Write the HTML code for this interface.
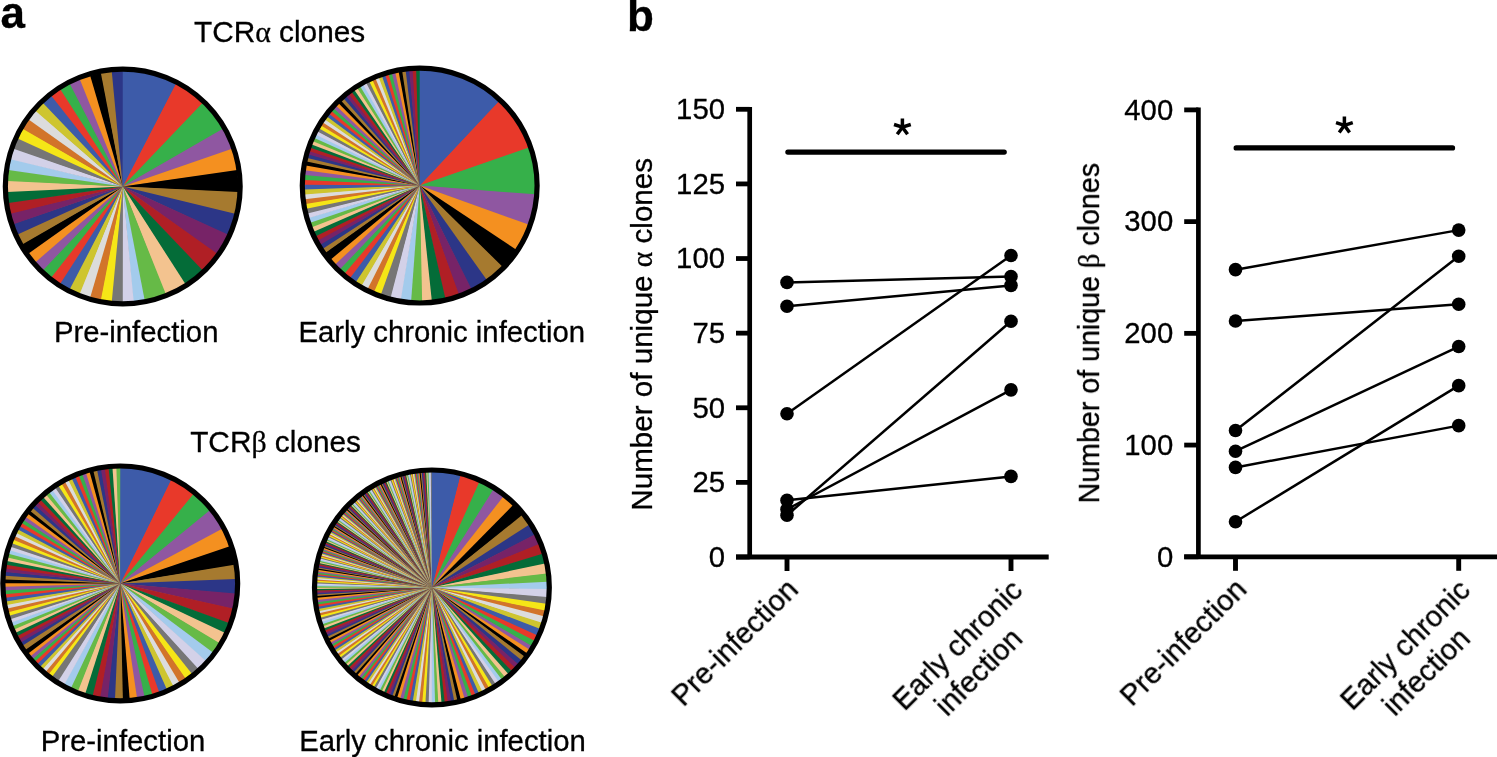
<!DOCTYPE html>
<html><head><meta charset="utf-8"><style>
html,body{margin:0;padding:0;background:#fff;}
svg{display:block;}
</style></head><body>
<svg width="1497" height="757" viewBox="0 0 1497 757">
<rect width="1497" height="757" fill="#fff"/>
<circle cx="122.75" cy="186.55" r="115.1" fill="#877460"/>
<path d="M122.75 186.55L122.75 70.95A115.6 115.6 0 0 1 176.35 84.13Z" fill="#3d5ba9"/>
<path d="M122.75 186.55L175.72 83.80A115.6 115.6 0 0 1 203.03 103.38Z" fill="#e8392a"/>
<path d="M122.75 186.55L202.52 102.89A115.6 115.6 0 0 1 223.21 129.36Z" fill="#36b04a"/>
<path d="M122.75 186.55L222.86 128.75A115.6 115.6 0 0 1 232.22 149.41Z" fill="#8f57a1"/>
<path d="M122.75 186.55L231.99 148.74A115.6 115.6 0 0 1 237.27 170.80Z" fill="#f49020"/>
<path d="M122.75 186.55L237.17 170.10A115.6 115.6 0 0 1 238.18 192.76Z" fill="#000000"/>
<path d="M122.75 186.55L238.22 192.05A115.6 115.6 0 0 1 234.92 214.49Z" fill="#a67a2f"/>
<path d="M122.75 186.55L235.09 213.80A115.6 115.6 0 0 1 227.61 235.21Z" fill="#2c3687"/>
<path d="M122.75 186.55L227.90 234.57A115.6 115.6 0 0 1 216.50 254.18Z" fill="#772367"/>
<path d="M122.75 186.55L216.91 253.60A115.6 115.6 0 0 1 202.01 270.70Z" fill="#b01f25"/>
<path d="M122.75 186.55L202.52 270.21A115.6 115.6 0 0 1 184.65 284.18Z" fill="#046c38"/>
<path d="M122.75 186.55L185.25 283.80A115.6 115.6 0 0 1 165.06 294.13Z" fill="#f3c38f"/>
<path d="M122.75 186.55L165.71 293.87A115.6 115.6 0 0 1 143.93 300.19Z" fill="#66ba47"/>
<path d="M122.75 186.55L144.63 300.06A115.6 115.6 0 0 1 133.04 301.69Z" fill="#a3cbec"/>
<path d="M122.75 186.55L133.74 301.63A115.6 115.6 0 0 1 122.04 302.15Z" fill="#d3d1e8"/>
<path d="M122.75 186.55L122.75 302.15A115.6 115.6 0 0 1 111.06 301.56Z" fill="#767676"/>
<path d="M122.75 186.55L111.76 301.63A115.6 115.6 0 0 1 100.18 299.93Z" fill="#f5e617"/>
<path d="M122.75 186.55L100.87 300.06A115.6 115.6 0 0 1 89.50 297.27Z" fill="#d2742a"/>
<path d="M122.75 186.55L90.18 297.47A115.6 115.6 0 0 1 79.13 293.60Z" fill="#dcdcdc"/>
<path d="M122.75 186.55L79.79 293.87A115.6 115.6 0 0 1 69.15 288.97Z" fill="#cec52f"/>
<path d="M122.75 186.55L69.78 289.30A115.6 115.6 0 0 1 59.66 283.42Z" fill="#3d5ba9"/>
<path d="M122.75 186.55L60.25 283.80A115.6 115.6 0 0 1 50.74 276.98Z" fill="#e8392a"/>
<path d="M122.75 186.55L51.29 277.42A115.6 115.6 0 0 1 42.47 269.72Z" fill="#36b04a"/>
<path d="M122.75 186.55L42.98 270.21A115.6 115.6 0 0 1 34.92 261.72Z" fill="#8f57a1"/>
<path d="M122.75 186.55L35.39 262.25A115.6 115.6 0 0 1 28.18 253.03Z" fill="#f49020"/>
<path d="M122.75 186.55L28.59 253.60A115.6 115.6 0 0 1 22.29 243.74Z" fill="#000000"/>
<path d="M122.75 186.55L22.64 244.35A115.6 115.6 0 0 1 17.31 233.93Z" fill="#a67a2f"/>
<path d="M122.75 186.55L17.60 234.57A115.6 115.6 0 0 1 13.28 223.69Z" fill="#2c3687"/>
<path d="M122.75 186.55L13.51 224.36A115.6 115.6 0 0 1 10.24 213.12Z" fill="#772367"/>
<path d="M122.75 186.55L10.41 213.80A115.6 115.6 0 0 1 8.23 202.30Z" fill="#b01f25"/>
<path d="M122.75 186.55L8.33 203.00A115.6 115.6 0 0 1 7.25 191.35Z" fill="#046c38"/>
<path d="M122.75 186.55L7.28 192.05A115.6 115.6 0 0 1 7.32 180.34Z" fill="#f3c38f"/>
<path d="M122.75 186.55L7.28 181.05A115.6 115.6 0 0 1 8.43 169.40Z" fill="#66ba47"/>
<path d="M122.75 186.55L8.33 170.10A115.6 115.6 0 0 1 10.58 158.61Z" fill="#a3cbec"/>
<path d="M122.75 186.55L10.41 159.30A115.6 115.6 0 0 1 13.74 148.07Z" fill="#d3d1e8"/>
<path d="M122.75 186.55L13.51 148.74A115.6 115.6 0 0 1 17.89 137.89Z" fill="#767676"/>
<path d="M122.75 186.55L17.60 138.53A115.6 115.6 0 0 1 22.99 128.14Z" fill="#f5e617"/>
<path d="M122.75 186.55L22.64 128.75A115.6 115.6 0 0 1 29.00 118.92Z" fill="#d2742a"/>
<path d="M122.75 186.55L28.59 119.50A115.6 115.6 0 0 1 35.85 110.32Z" fill="#dcdcdc"/>
<path d="M122.75 186.55L35.39 110.85A115.6 115.6 0 0 1 43.49 102.40Z" fill="#cec52f"/>
<path d="M122.75 186.55L42.98 102.89A115.6 115.6 0 0 1 51.85 95.25Z" fill="#3d5ba9"/>
<path d="M122.75 186.55L51.29 95.68A115.6 115.6 0 0 1 60.85 88.92Z" fill="#e8392a"/>
<path d="M122.75 186.55L60.25 89.30A115.6 115.6 0 0 1 70.41 83.48Z" fill="#36b04a"/>
<path d="M122.75 186.55L69.78 83.80A115.6 115.6 0 0 1 80.44 78.97Z" fill="#8f57a1"/>
<path d="M122.75 186.55L79.79 79.23A115.6 115.6 0 0 1 90.86 75.44Z" fill="#f49020"/>
<path d="M122.75 186.55L90.18 75.63A115.6 115.6 0 0 1 101.57 72.91Z" fill="#000000"/>
<path d="M122.75 186.55L100.87 73.04A115.6 115.6 0 0 1 112.46 71.41Z" fill="#a67a2f"/>
<path d="M122.75 186.55L111.76 71.47A115.6 115.6 0 0 1 123.46 70.95Z" fill="#2c3687"/>
<path d="M122.75 186.55L122.75 70.95A115.6 115.6 0 0 1 175.72 83.80Z" fill="#3d5ba9"/>
<circle cx="122.75" cy="186.55" r="117.4" fill="none" stroke="#000" stroke-width="5.2"/>
<circle cx="419.7" cy="185.6" r="115.1" fill="#867162"/>
<path d="M419.70 185.60L419.70 70.00A115.6 115.6 0 0 1 499.20 101.68Z" fill="#3d5ba9"/>
<path d="M419.70 185.60L498.69 101.19A115.6 115.6 0 0 1 529.03 148.06Z" fill="#e8392a"/>
<path d="M419.70 185.60L528.80 147.39A115.6 115.6 0 0 1 534.92 194.97Z" fill="#36b04a"/>
<path d="M419.70 185.60L534.97 194.27A115.6 115.6 0 0 1 528.29 225.23Z" fill="#8f57a1"/>
<path d="M419.70 185.60L528.53 224.57A115.6 115.6 0 0 1 515.59 250.16Z" fill="#f49020"/>
<path d="M419.70 185.60L515.99 249.57A115.6 115.6 0 0 1 501.80 266.98Z" fill="#000000"/>
<path d="M419.70 185.60L502.29 266.48A115.6 115.6 0 0 1 486.09 280.24Z" fill="#a67a2f"/>
<path d="M419.70 185.60L486.66 279.83A115.6 115.6 0 0 1 470.83 289.28Z" fill="#2c3687"/>
<path d="M419.70 185.60L471.46 288.96A115.6 115.6 0 0 1 458.19 294.60Z" fill="#772367"/>
<path d="M419.70 185.60L458.86 294.37A115.6 115.6 0 0 1 444.62 298.48Z" fill="#b01f25"/>
<path d="M419.70 185.60L445.31 298.33A115.6 115.6 0 0 1 431.08 300.64Z" fill="#046c38"/>
<path d="M419.70 185.60L431.78 300.57A115.6 115.6 0 0 1 421.41 301.19Z" fill="#f3c38f"/>
<path d="M419.70 185.60L422.12 301.17A115.6 115.6 0 0 1 410.45 300.83Z" fill="#66ba47"/>
<path d="M419.70 185.60L411.15 300.88A115.6 115.6 0 0 1 400.12 299.53Z" fill="#a3cbec"/>
<path d="M419.70 185.60L400.82 299.65A115.6 115.6 0 0 1 389.98 297.31Z" fill="#d3d1e8"/>
<path d="M419.70 185.60L390.66 297.49A115.6 115.6 0 0 1 380.26 294.26Z" fill="#767676"/>
<path d="M419.70 185.60L380.92 294.50A115.6 115.6 0 0 1 373.51 291.57Z" fill="#f5e617"/>
<path d="M419.70 185.60L374.16 291.85A115.6 115.6 0 0 1 367.13 288.55Z" fill="#d2742a"/>
<path d="M419.70 185.60L367.76 288.87A115.6 115.6 0 0 1 361.12 285.26Z" fill="#dcdcdc"/>
<path d="M419.70 185.60L361.73 285.61A115.6 115.6 0 0 1 355.31 281.61Z" fill="#cec52f"/>
<path d="M419.70 185.60L355.90 282.00A115.6 115.6 0 0 1 349.57 277.50Z" fill="#3d5ba9"/>
<path d="M419.70 185.60L350.13 277.92A115.6 115.6 0 0 1 344.09 273.04Z" fill="#e8392a"/>
<path d="M419.70 185.60L344.62 273.50A115.6 115.6 0 0 1 339.47 268.83Z" fill="#36b04a"/>
<path d="M419.70 185.60L339.98 269.31A115.6 115.6 0 0 1 334.68 263.92Z" fill="#8f57a1"/>
<path d="M419.70 185.60L335.16 264.44A115.6 115.6 0 0 1 330.31 258.90Z" fill="#f49020"/>
<path d="M419.70 185.60L330.76 259.44A115.6 115.6 0 0 1 325.18 252.15Z" fill="#000000"/>
<path d="M419.70 185.60L325.59 252.73A115.6 115.6 0 0 1 322.48 248.15Z" fill="#a67a2f"/>
<path d="M419.70 185.60L322.87 248.74A115.6 115.6 0 0 1 319.95 244.03Z" fill="#2c3687"/>
<path d="M419.70 185.60L320.31 244.64A115.6 115.6 0 0 1 317.60 239.81Z" fill="#772367"/>
<path d="M419.70 185.60L317.93 240.43A115.6 115.6 0 0 1 315.42 235.50Z" fill="#b01f25"/>
<path d="M419.70 185.60L315.73 236.13A115.6 115.6 0 0 1 313.43 231.09Z" fill="#046c38"/>
<path d="M419.70 185.60L313.71 231.74A115.6 115.6 0 0 1 311.62 226.61Z" fill="#f3c38f"/>
<path d="M419.70 185.60L311.87 227.27A115.6 115.6 0 0 1 310.00 222.06Z" fill="#66ba47"/>
<path d="M419.70 185.60L310.23 222.73A115.6 115.6 0 0 1 308.57 217.45Z" fill="#a3cbec"/>
<path d="M419.70 185.60L308.77 218.12A115.6 115.6 0 0 1 307.34 212.77Z" fill="#d3d1e8"/>
<path d="M419.70 185.60L307.51 213.46A115.6 115.6 0 0 1 306.30 208.06Z" fill="#767676"/>
<path d="M419.70 185.60L306.44 208.75A115.6 115.6 0 0 1 305.46 203.30Z" fill="#f5e617"/>
<path d="M419.70 185.60L305.57 204.00A115.6 115.6 0 0 1 304.82 198.51Z" fill="#d2742a"/>
<path d="M419.70 185.60L304.90 199.21A115.6 115.6 0 0 1 304.38 193.70Z" fill="#dcdcdc"/>
<path d="M419.70 185.60L304.44 194.40A115.6 115.6 0 0 1 304.15 188.87Z" fill="#cec52f"/>
<path d="M419.70 185.60L304.17 189.58A115.6 115.6 0 0 1 304.11 184.04Z" fill="#3d5ba9"/>
<path d="M419.70 185.60L304.10 184.75A115.6 115.6 0 0 1 304.28 179.21Z" fill="#e8392a"/>
<path d="M419.70 185.60L304.24 179.92A115.6 115.6 0 0 1 304.64 174.39Z" fill="#36b04a"/>
<path d="M419.70 185.60L304.58 175.10A115.6 115.6 0 0 1 305.21 169.60Z" fill="#8f57a1"/>
<path d="M419.70 185.60L305.12 170.30A115.6 115.6 0 0 1 305.98 164.83Z" fill="#f49020"/>
<path d="M419.70 185.60L305.86 165.52A115.6 115.6 0 0 1 306.81 160.72Z" fill="#000000"/>
<path d="M419.70 185.60L306.66 161.41A115.6 115.6 0 0 1 307.62 157.28Z" fill="#a67a2f"/>
<path d="M419.70 185.60L307.45 157.96A115.6 115.6 0 0 1 308.54 153.86Z" fill="#2c3687"/>
<path d="M419.70 185.60L308.35 154.54A115.6 115.6 0 0 1 309.57 150.47Z" fill="#772367"/>
<path d="M419.70 185.60L309.36 151.14A115.6 115.6 0 0 1 310.70 147.11Z" fill="#b01f25"/>
<path d="M419.70 185.60L310.46 147.78A115.6 115.6 0 0 1 311.93 143.79Z" fill="#046c38"/>
<path d="M419.70 185.60L311.67 144.45A115.6 115.6 0 0 1 313.26 140.51Z" fill="#f3c38f"/>
<path d="M419.70 185.60L312.98 141.16A115.6 115.6 0 0 1 314.69 137.27Z" fill="#66ba47"/>
<path d="M419.70 185.60L314.39 137.91A115.6 115.6 0 0 1 316.22 134.08Z" fill="#a3cbec"/>
<path d="M419.70 185.60L315.90 134.71A115.6 115.6 0 0 1 317.84 130.93Z" fill="#d3d1e8"/>
<path d="M419.70 185.60L317.51 131.56A115.6 115.6 0 0 1 319.56 127.84Z" fill="#767676"/>
<path d="M419.70 185.60L319.21 128.45A115.6 115.6 0 0 1 321.38 124.80Z" fill="#f5e617"/>
<path d="M419.70 185.60L321.01 125.40A115.6 115.6 0 0 1 323.29 121.82Z" fill="#d2742a"/>
<path d="M419.70 185.60L322.90 122.41A115.6 115.6 0 0 1 325.29 118.89Z" fill="#dcdcdc"/>
<path d="M419.70 185.60L324.88 119.47A115.6 115.6 0 0 1 327.37 116.03Z" fill="#cec52f"/>
<path d="M419.70 185.60L326.95 116.60A115.6 115.6 0 0 1 329.55 113.24Z" fill="#3d5ba9"/>
<path d="M419.70 185.60L329.11 113.79A115.6 115.6 0 0 1 331.81 110.51Z" fill="#e8392a"/>
<path d="M419.70 185.60L331.35 111.05A115.6 115.6 0 0 1 334.15 107.86Z" fill="#36b04a"/>
<path d="M419.70 185.60L333.67 108.38A115.6 115.6 0 0 1 336.57 105.27Z" fill="#8f57a1"/>
<path d="M419.70 185.60L336.08 105.78A115.6 115.6 0 0 1 339.07 102.76Z" fill="#f49020"/>
<path d="M419.70 185.60L338.56 103.26A115.6 115.6 0 0 1 341.60 100.37Z" fill="#000000"/>
<path d="M419.70 185.60L341.08 100.85A115.6 115.6 0 0 1 344.17 98.09Z" fill="#a67a2f"/>
<path d="M419.70 185.60L343.64 98.55A115.6 115.6 0 0 1 346.80 95.88Z" fill="#2c3687"/>
<path d="M419.70 185.60L346.26 96.33A115.6 115.6 0 0 1 349.50 93.75Z" fill="#772367"/>
<path d="M419.70 185.60L348.94 94.18A115.6 115.6 0 0 1 352.26 91.71Z" fill="#b01f25"/>
<path d="M419.70 185.60L351.69 92.12A115.6 115.6 0 0 1 355.08 89.75Z" fill="#046c38"/>
<path d="M419.70 185.60L354.50 90.14A115.6 115.6 0 0 1 357.96 87.87Z" fill="#f3c38f"/>
<path d="M419.70 185.60L357.36 88.25A115.6 115.6 0 0 1 360.89 86.08Z" fill="#66ba47"/>
<path d="M419.70 185.60L360.28 86.44A115.6 115.6 0 0 1 363.87 84.37Z" fill="#a3cbec"/>
<path d="M419.70 185.60L363.26 84.72A115.6 115.6 0 0 1 366.91 82.76Z" fill="#d3d1e8"/>
<path d="M419.70 185.60L366.28 83.08A115.6 115.6 0 0 1 369.98 81.24Z" fill="#767676"/>
<path d="M419.70 185.60L369.35 81.54A115.6 115.6 0 0 1 373.11 79.81Z" fill="#f5e617"/>
<path d="M419.70 185.60L372.46 80.09A115.6 115.6 0 0 1 376.27 78.47Z" fill="#d2742a"/>
<path d="M419.70 185.60L375.62 78.73A115.6 115.6 0 0 1 379.47 77.22Z" fill="#dcdcdc"/>
<path d="M419.70 185.60L378.81 77.47A115.6 115.6 0 0 1 382.71 76.08Z" fill="#cec52f"/>
<path d="M419.70 185.60L382.04 76.31A115.6 115.6 0 0 1 385.98 75.03Z" fill="#3d5ba9"/>
<path d="M419.70 185.60L385.31 75.23A115.6 115.6 0 0 1 389.28 74.07Z" fill="#e8392a"/>
<path d="M419.70 185.60L388.60 74.26A115.6 115.6 0 0 1 392.61 73.22Z" fill="#36b04a"/>
<path d="M419.70 185.60L391.92 73.39A115.6 115.6 0 0 1 395.96 72.46Z" fill="#8f57a1"/>
<path d="M419.70 185.60L395.27 72.61A115.6 115.6 0 0 1 399.41 71.79Z" fill="#f49020"/>
<path d="M419.70 185.60L398.72 71.92A115.6 115.6 0 0 1 402.88 71.23Z" fill="#000000"/>
<path d="M419.70 185.60L402.19 71.33A115.6 115.6 0 0 1 406.37 70.77Z" fill="#a67a2f"/>
<path d="M419.70 185.60L405.67 70.85A115.6 115.6 0 0 1 409.87 70.42Z" fill="#2c3687"/>
<path d="M419.70 185.60L409.17 70.48A115.6 115.6 0 0 1 413.38 70.17Z" fill="#772367"/>
<path d="M419.70 185.60L412.67 70.21A115.6 115.6 0 0 1 416.89 70.03Z" fill="#b01f25"/>
<path d="M419.70 185.60L416.18 70.05A115.6 115.6 0 0 1 420.41 70.00Z" fill="#046c38"/>
<path d="M419.70 185.60L419.70 70.00A115.6 115.6 0 0 1 498.69 101.19Z" fill="#3d5ba9"/>
<circle cx="419.7" cy="185.6" r="117.4" fill="none" stroke="#000" stroke-width="5.2"/>
<circle cx="120.25" cy="583.4" r="115.1" fill="#8a7664"/>
<path d="M120.25 583.40L120.25 467.80A115.6 115.6 0 0 1 171.74 479.90Z" fill="#3d5ba9"/>
<path d="M120.25 583.40L171.11 479.59A115.6 115.6 0 0 1 194.01 494.39Z" fill="#e8392a"/>
<path d="M120.25 583.40L193.47 493.94A115.6 115.6 0 0 1 210.28 510.89Z" fill="#36b04a"/>
<path d="M120.25 583.40L209.83 510.34A115.6 115.6 0 0 1 222.46 529.40Z" fill="#8f57a1"/>
<path d="M120.25 583.40L222.13 528.77A115.6 115.6 0 0 1 229.97 547.01Z" fill="#f49020"/>
<path d="M120.25 583.40L229.75 546.34A115.6 115.6 0 0 1 234.44 565.42Z" fill="#000000"/>
<path d="M120.25 583.40L234.33 564.72A115.6 115.6 0 0 1 235.79 579.67Z" fill="#a67a2f"/>
<path d="M120.25 583.40L235.76 578.96A115.6 115.6 0 0 1 235.34 594.28Z" fill="#2c3687"/>
<path d="M120.25 583.40L235.40 593.58A115.6 115.6 0 0 1 232.95 609.11Z" fill="#772367"/>
<path d="M120.25 583.40L233.11 608.42A115.6 115.6 0 0 1 228.63 623.60Z" fill="#b01f25"/>
<path d="M120.25 583.40L228.88 622.94A115.6 115.6 0 0 1 224.46 633.44Z" fill="#046c38"/>
<path d="M120.25 583.40L224.76 632.80A115.6 115.6 0 0 1 218.97 643.54Z" fill="#f3c38f"/>
<path d="M120.25 583.40L219.34 642.94A115.6 115.6 0 0 1 212.51 653.05Z" fill="#66ba47"/>
<path d="M120.25 583.40L212.94 652.49A115.6 115.6 0 0 1 205.41 661.57Z" fill="#a3cbec"/>
<path d="M120.25 583.40L205.89 661.05A115.6 115.6 0 0 1 197.68 669.24Z" fill="#d3d1e8"/>
<path d="M120.25 583.40L198.20 668.77A115.6 115.6 0 0 1 191.50 674.43Z" fill="#767676"/>
<path d="M120.25 583.40L192.05 673.99A115.6 115.6 0 0 1 185.14 679.07Z" fill="#f5e617"/>
<path d="M120.25 583.40L185.73 678.67A115.6 115.6 0 0 1 178.83 683.06Z" fill="#d2742a"/>
<path d="M120.25 583.40L179.44 682.70A115.6 115.6 0 0 1 172.64 686.45Z" fill="#dcdcdc"/>
<path d="M120.25 583.40L173.27 686.12A115.6 115.6 0 0 1 166.07 689.53Z" fill="#cec52f"/>
<path d="M120.25 583.40L166.72 689.25A115.6 115.6 0 0 1 158.55 692.47Z" fill="#3d5ba9"/>
<path d="M120.25 583.40L159.22 692.23A115.6 115.6 0 0 1 151.63 694.66Z" fill="#e8392a"/>
<path d="M120.25 583.40L152.31 694.47A115.6 115.6 0 0 1 143.79 696.58Z" fill="#36b04a"/>
<path d="M120.25 583.40L144.48 696.43A115.6 115.6 0 0 1 136.24 697.89Z" fill="#8f57a1"/>
<path d="M120.25 583.40L136.94 697.79A115.6 115.6 0 0 1 128.92 698.67Z" fill="#f49020"/>
<path d="M120.25 583.40L129.62 698.62A115.6 115.6 0 0 1 122.17 698.98Z" fill="#000000"/>
<path d="M120.25 583.40L122.87 698.97A115.6 115.6 0 0 1 114.30 698.85Z" fill="#a67a2f"/>
<path d="M120.25 583.40L115.01 698.88A115.6 115.6 0 0 1 107.06 698.25Z" fill="#2c3687"/>
<path d="M120.25 583.40L107.77 698.32A115.6 115.6 0 0 1 99.48 697.12Z" fill="#772367"/>
<path d="M120.25 583.40L100.18 697.24A115.6 115.6 0 0 1 91.99 695.49Z" fill="#b01f25"/>
<path d="M120.25 583.40L92.68 695.66A115.6 115.6 0 0 1 84.62 693.37Z" fill="#046c38"/>
<path d="M120.25 583.40L85.30 693.59A115.6 115.6 0 0 1 77.41 690.77Z" fill="#f3c38f"/>
<path d="M120.25 583.40L78.07 691.03A115.6 115.6 0 0 1 70.39 687.70Z" fill="#66ba47"/>
<path d="M120.25 583.40L71.03 688.00A115.6 115.6 0 0 1 63.77 684.26Z" fill="#a3cbec"/>
<path d="M120.25 583.40L64.38 684.60A115.6 115.6 0 0 1 57.71 680.62Z" fill="#d3d1e8"/>
<path d="M120.25 583.40L58.31 681.00A115.6 115.6 0 0 1 51.57 676.39Z" fill="#767676"/>
<path d="M120.25 583.40L52.14 676.80A115.6 115.6 0 0 1 48.21 673.81Z" fill="#f5e617"/>
<path d="M120.25 583.40L48.76 674.25A115.6 115.6 0 0 1 45.25 671.37Z" fill="#d2742a"/>
<path d="M120.25 583.40L45.79 671.82A115.6 115.6 0 0 1 42.23 668.70Z" fill="#dcdcdc"/>
<path d="M120.25 583.40L42.75 669.17A115.6 115.6 0 0 1 39.73 666.35Z" fill="#cec52f"/>
<path d="M120.25 583.40L40.24 666.84A115.6 115.6 0 0 1 36.88 663.48Z" fill="#3d5ba9"/>
<path d="M120.25 583.40L37.38 663.99A115.6 115.6 0 0 1 34.61 661.05Z" fill="#e8392a"/>
<path d="M120.25 583.40L35.09 661.57A115.6 115.6 0 0 1 32.28 658.40Z" fill="#36b04a"/>
<path d="M120.25 583.40L32.74 658.94A115.6 115.6 0 0 1 30.03 655.68Z" fill="#8f57a1"/>
<path d="M120.25 583.40L30.48 656.23A115.6 115.6 0 0 1 27.87 652.89Z" fill="#f49020"/>
<path d="M120.25 583.40L28.29 653.45A115.6 115.6 0 0 1 25.15 649.13Z" fill="#000000"/>
<path d="M120.25 583.40L25.56 649.71A115.6 115.6 0 0 1 22.38 644.92Z" fill="#a67a2f"/>
<path d="M120.25 583.40L22.75 645.51A115.6 115.6 0 0 1 20.48 641.79Z" fill="#2c3687"/>
<path d="M120.25 583.40L20.84 642.40A115.6 115.6 0 0 1 18.69 638.61Z" fill="#772367"/>
<path d="M120.25 583.40L19.03 639.23A115.6 115.6 0 0 1 16.99 635.37Z" fill="#b01f25"/>
<path d="M120.25 583.40L17.31 636.00A115.6 115.6 0 0 1 15.40 632.08Z" fill="#046c38"/>
<path d="M120.25 583.40L15.70 632.72A115.6 115.6 0 0 1 13.92 628.75Z" fill="#f3c38f"/>
<path d="M120.25 583.40L14.19 629.40A115.6 115.6 0 0 1 12.54 625.36Z" fill="#66ba47"/>
<path d="M120.25 583.40L12.79 626.02A115.6 115.6 0 0 1 11.26 621.94Z" fill="#a3cbec"/>
<path d="M120.25 583.40L11.50 622.60A115.6 115.6 0 0 1 10.10 618.48Z" fill="#d3d1e8"/>
<path d="M120.25 583.40L10.32 619.15A115.6 115.6 0 0 1 9.05 614.98Z" fill="#767676"/>
<path d="M120.25 583.40L9.24 615.66A115.6 115.6 0 0 1 8.10 611.45Z" fill="#f5e617"/>
<path d="M120.25 583.40L8.28 612.13A115.6 115.6 0 0 1 7.27 607.89Z" fill="#d2742a"/>
<path d="M120.25 583.40L7.43 608.58A115.6 115.6 0 0 1 6.56 604.31Z" fill="#dcdcdc"/>
<path d="M120.25 583.40L6.69 605.00A115.6 115.6 0 0 1 5.95 600.71Z" fill="#cec52f"/>
<path d="M120.25 583.40L6.06 601.40A115.6 115.6 0 0 1 5.46 597.08Z" fill="#3d5ba9"/>
<path d="M120.25 583.40L5.55 597.79A115.6 115.6 0 0 1 5.09 593.45Z" fill="#e8392a"/>
<path d="M120.25 583.40L5.15 594.15A115.6 115.6 0 0 1 4.83 589.81Z" fill="#36b04a"/>
<path d="M120.25 583.40L4.87 590.51A115.6 115.6 0 0 1 4.68 586.16Z" fill="#8f57a1"/>
<path d="M120.25 583.40L4.70 586.86A115.6 115.6 0 0 1 4.65 582.50Z" fill="#f49020"/>
<path d="M120.25 583.40L4.65 583.21A115.6 115.6 0 0 1 4.74 578.82Z" fill="#000000"/>
<path d="M120.25 583.40L4.72 579.52A115.6 115.6 0 0 1 4.95 575.10Z" fill="#a67a2f"/>
<path d="M120.25 583.40L4.90 575.80A115.6 115.6 0 0 1 5.28 571.39Z" fill="#2c3687"/>
<path d="M120.25 583.40L5.20 572.09A115.6 115.6 0 0 1 5.72 567.70Z" fill="#772367"/>
<path d="M120.25 583.40L5.63 568.40A115.6 115.6 0 0 1 6.29 564.02Z" fill="#b01f25"/>
<path d="M120.25 583.40L6.17 564.71A115.6 115.6 0 0 1 6.97 560.36Z" fill="#046c38"/>
<path d="M120.25 583.40L6.83 561.05A115.6 115.6 0 0 1 7.77 556.72Z" fill="#f3c38f"/>
<path d="M120.25 583.40L7.61 557.41A115.6 115.6 0 0 1 8.69 553.12Z" fill="#66ba47"/>
<path d="M120.25 583.40L8.50 553.80A115.6 115.6 0 0 1 9.72 549.54Z" fill="#a3cbec"/>
<path d="M120.25 583.40L9.52 550.21A115.6 115.6 0 0 1 10.87 546.00Z" fill="#d3d1e8"/>
<path d="M120.25 583.40L10.64 546.67A115.6 115.6 0 0 1 12.13 542.50Z" fill="#767676"/>
<path d="M120.25 583.40L11.88 543.16A115.6 115.6 0 0 1 13.50 539.04Z" fill="#f5e617"/>
<path d="M120.25 583.40L13.23 539.69A115.6 115.6 0 0 1 14.99 535.62Z" fill="#d2742a"/>
<path d="M120.25 583.40L14.70 536.27A115.6 115.6 0 0 1 16.58 532.26Z" fill="#dcdcdc"/>
<path d="M120.25 583.40L16.27 532.89A115.6 115.6 0 0 1 18.28 528.95Z" fill="#cec52f"/>
<path d="M120.25 583.40L17.95 529.57A115.6 115.6 0 0 1 20.08 525.69Z" fill="#3d5ba9"/>
<path d="M120.25 583.40L19.73 526.30A115.6 115.6 0 0 1 21.99 522.50Z" fill="#e8392a"/>
<path d="M120.25 583.40L21.62 523.10A115.6 115.6 0 0 1 24.01 519.36Z" fill="#36b04a"/>
<path d="M120.25 583.40L23.62 519.95A115.6 115.6 0 0 1 26.12 516.30Z" fill="#8f57a1"/>
<path d="M120.25 583.40L25.71 516.88A115.6 115.6 0 0 1 28.33 513.30Z" fill="#f49020"/>
<path d="M120.25 583.40L27.90 513.87A115.6 115.6 0 0 1 30.66 510.35Z" fill="#000000"/>
<path d="M120.25 583.40L30.21 510.90A115.6 115.6 0 0 1 33.11 507.44Z" fill="#a67a2f"/>
<path d="M120.25 583.40L32.65 507.98A115.6 115.6 0 0 1 35.65 504.62Z" fill="#2c3687"/>
<path d="M120.25 583.40L35.17 505.13A115.6 115.6 0 0 1 38.29 501.88Z" fill="#772367"/>
<path d="M120.25 583.40L37.79 502.38A115.6 115.6 0 0 1 41.02 499.22Z" fill="#b01f25"/>
<path d="M120.25 583.40L40.50 499.71A115.6 115.6 0 0 1 43.83 496.66Z" fill="#046c38"/>
<path d="M120.25 583.40L43.30 497.13A115.6 115.6 0 0 1 46.72 494.20Z" fill="#f3c38f"/>
<path d="M120.25 583.40L46.18 494.65A115.6 115.6 0 0 1 49.70 491.83Z" fill="#66ba47"/>
<path d="M120.25 583.40L49.14 492.26A115.6 115.6 0 0 1 52.75 489.56Z" fill="#a3cbec"/>
<path d="M120.25 583.40L52.18 489.97A115.6 115.6 0 0 1 55.87 487.39Z" fill="#d3d1e8"/>
<path d="M120.25 583.40L55.29 487.78A115.6 115.6 0 0 1 59.06 485.32Z" fill="#767676"/>
<path d="M120.25 583.40L58.47 485.70A115.6 115.6 0 0 1 62.32 483.36Z" fill="#f5e617"/>
<path d="M120.25 583.40L61.71 483.72A115.6 115.6 0 0 1 65.65 481.51Z" fill="#d2742a"/>
<path d="M120.25 583.40L65.02 481.84A115.6 115.6 0 0 1 69.03 479.77Z" fill="#dcdcdc"/>
<path d="M120.25 583.40L68.39 480.08A115.6 115.6 0 0 1 72.46 478.14Z" fill="#cec52f"/>
<path d="M120.25 583.40L71.82 478.43A115.6 115.6 0 0 1 75.95 476.62Z" fill="#3d5ba9"/>
<path d="M120.25 583.40L75.30 476.90A115.6 115.6 0 0 1 79.49 475.23Z" fill="#e8392a"/>
<path d="M120.25 583.40L78.83 475.48A115.6 115.6 0 0 1 83.07 473.94Z" fill="#36b04a"/>
<path d="M120.25 583.40L82.40 474.17A115.6 115.6 0 0 1 86.69 472.78Z" fill="#8f57a1"/>
<path d="M120.25 583.40L86.01 472.99A115.6 115.6 0 0 1 90.35 471.74Z" fill="#f49020"/>
<path d="M120.25 583.40L89.66 471.92A115.6 115.6 0 0 1 94.07 470.80Z" fill="#000000"/>
<path d="M120.25 583.40L93.38 470.97A115.6 115.6 0 0 1 97.86 469.99Z" fill="#a67a2f"/>
<path d="M120.25 583.40L97.16 470.13A115.6 115.6 0 0 1 101.67 469.30Z" fill="#2c3687"/>
<path d="M120.25 583.40L100.97 469.42A115.6 115.6 0 0 1 105.50 468.74Z" fill="#772367"/>
<path d="M120.25 583.40L104.80 468.84A115.6 115.6 0 0 1 109.35 468.31Z" fill="#b01f25"/>
<path d="M120.25 583.40L108.65 468.38A115.6 115.6 0 0 1 113.21 468.01Z" fill="#046c38"/>
<path d="M120.25 583.40L112.51 468.06A115.6 115.6 0 0 1 117.08 467.84Z" fill="#f3c38f"/>
<path d="M120.25 583.40L116.38 467.86A115.6 115.6 0 0 1 120.96 467.80Z" fill="#66ba47"/>
<path d="M120.25 583.40L120.25 467.80A115.6 115.6 0 0 1 171.11 479.59Z" fill="#3d5ba9"/>
<circle cx="120.25" cy="583.4" r="117.4" fill="none" stroke="#000" stroke-width="5.2"/>
<circle cx="431.9" cy="587.4" r="115.1" fill="#8f7b63"/>
<path d="M431.90 587.40L431.90 471.80A115.6 115.6 0 0 1 460.94 475.51Z" fill="#3d5ba9"/>
<path d="M431.90 587.40L460.26 475.33A115.6 115.6 0 0 1 479.93 482.25Z" fill="#e8392a"/>
<path d="M431.90 587.40L479.29 481.96A115.6 115.6 0 0 1 493.93 489.85Z" fill="#36b04a"/>
<path d="M431.90 587.40L493.33 489.47A115.6 115.6 0 0 1 503.94 496.99Z" fill="#8f57a1"/>
<path d="M431.90 587.40L503.39 496.55A115.6 115.6 0 0 1 513.57 505.59Z" fill="#f49020"/>
<path d="M431.90 587.40L513.07 505.09A115.6 115.6 0 0 1 522.56 515.67Z" fill="#000000"/>
<path d="M431.90 587.40L522.12 515.12A115.6 115.6 0 0 1 529.45 525.37Z" fill="#a67a2f"/>
<path d="M431.90 587.40L529.07 524.78A115.6 115.6 0 0 1 534.99 535.10Z" fill="#2c3687"/>
<path d="M431.90 587.40L534.67 534.47A115.6 115.6 0 0 1 539.34 544.75Z" fill="#772367"/>
<path d="M431.90 587.40L539.08 544.10A115.6 115.6 0 0 1 542.71 554.47Z" fill="#b01f25"/>
<path d="M431.90 587.40L542.51 553.79A115.6 115.6 0 0 1 545.16 564.25Z" fill="#046c38"/>
<path d="M431.90 587.40L545.02 563.56A115.6 115.6 0 0 1 546.73 574.11Z" fill="#f3c38f"/>
<path d="M431.90 587.40L546.65 573.41A115.6 115.6 0 0 1 547.39 582.46Z" fill="#66ba47"/>
<path d="M431.90 587.40L547.36 581.75A115.6 115.6 0 0 1 547.48 589.62Z" fill="#a3cbec"/>
<path d="M431.90 587.40L547.49 588.91A115.6 115.6 0 0 1 547.03 597.78Z" fill="#d3d1e8"/>
<path d="M431.90 587.40L547.09 597.07A115.6 115.6 0 0 1 546.25 604.39Z" fill="#767676"/>
<path d="M431.90 587.40L546.35 603.69A115.6 115.6 0 0 1 545.04 611.14Z" fill="#f5e617"/>
<path d="M431.90 587.40L545.18 610.45A115.6 115.6 0 0 1 543.64 617.03Z" fill="#d2742a"/>
<path d="M431.90 587.40L543.82 616.34A115.6 115.6 0 0 1 541.72 623.51Z" fill="#dcdcdc"/>
<path d="M431.90 587.40L541.94 622.83A115.6 115.6 0 0 1 539.57 629.49Z" fill="#cec52f"/>
<path d="M431.90 587.40L539.82 628.83A115.6 115.6 0 0 1 536.80 635.98Z" fill="#3d5ba9"/>
<path d="M431.90 587.40L537.09 635.34A115.6 115.6 0 0 1 534.16 641.31Z" fill="#e8392a"/>
<path d="M431.90 587.40L534.48 640.69A115.6 115.6 0 0 1 531.25 646.51Z" fill="#36b04a"/>
<path d="M431.90 587.40L531.61 645.90A115.6 115.6 0 0 1 529.01 650.11Z" fill="#8f57a1"/>
<path d="M431.90 587.40L529.40 649.51A115.6 115.6 0 0 1 526.59 653.71Z" fill="#f49020"/>
<path d="M431.90 587.40L527.00 653.13A115.6 115.6 0 0 1 524.10 657.13Z" fill="#000000"/>
<path d="M431.90 587.40L524.52 656.57A115.6 115.6 0 0 1 521.16 660.85Z" fill="#a67a2f"/>
<path d="M431.90 587.40L521.61 660.31A115.6 115.6 0 0 1 517.74 664.83Z" fill="#2c3687"/>
<path d="M431.90 587.40L518.21 664.30A115.6 115.6 0 0 1 514.56 668.21Z" fill="#772367"/>
<path d="M431.90 587.40L515.06 667.70A115.6 115.6 0 0 1 511.25 671.46Z" fill="#b01f25"/>
<path d="M431.90 587.40L511.77 670.98A115.6 115.6 0 0 1 507.82 674.58Z" fill="#046c38"/>
<path d="M431.90 587.40L508.35 674.11A115.6 115.6 0 0 1 504.26 677.55Z" fill="#f3c38f"/>
<path d="M431.90 587.40L504.81 677.11A115.6 115.6 0 0 1 501.23 679.90Z" fill="#66ba47"/>
<path d="M431.90 587.40L501.80 679.47A115.6 115.6 0 0 1 498.14 682.14Z" fill="#a3cbec"/>
<path d="M431.90 587.40L498.71 681.74A115.6 115.6 0 0 1 494.96 684.28Z" fill="#d3d1e8"/>
<path d="M431.90 587.40L495.55 683.90A115.6 115.6 0 0 1 491.72 686.32Z" fill="#767676"/>
<path d="M431.90 587.40L492.33 685.95A115.6 115.6 0 0 1 488.42 688.24Z" fill="#f5e617"/>
<path d="M431.90 587.40L489.03 687.90A115.6 115.6 0 0 1 485.05 690.06Z" fill="#d2742a"/>
<path d="M431.90 587.40L485.68 689.73A115.6 115.6 0 0 1 481.62 691.76Z" fill="#dcdcdc"/>
<path d="M431.90 587.40L482.26 691.45A115.6 115.6 0 0 1 478.14 693.35Z" fill="#cec52f"/>
<path d="M431.90 587.40L478.79 693.06A115.6 115.6 0 0 1 474.61 694.82Z" fill="#3d5ba9"/>
<path d="M431.90 587.40L475.27 694.56A115.6 115.6 0 0 1 471.03 696.17Z" fill="#e8392a"/>
<path d="M431.90 587.40L471.70 695.93A115.6 115.6 0 0 1 467.41 697.41Z" fill="#36b04a"/>
<path d="M431.90 587.40L468.08 697.19A115.6 115.6 0 0 1 463.75 698.52Z" fill="#8f57a1"/>
<path d="M431.90 587.40L464.43 698.33A115.6 115.6 0 0 1 460.06 699.52Z" fill="#f49020"/>
<path d="M431.90 587.40L460.74 699.34A115.6 115.6 0 0 1 456.63 700.32Z" fill="#000000"/>
<path d="M431.90 587.40L457.32 700.17A115.6 115.6 0 0 1 453.49 700.97Z" fill="#a67a2f"/>
<path d="M431.90 587.40L454.19 700.83A115.6 115.6 0 0 1 450.33 701.52Z" fill="#2c3687"/>
<path d="M431.90 587.40L451.03 701.41A115.6 115.6 0 0 1 447.16 701.99Z" fill="#772367"/>
<path d="M431.90 587.40L447.86 701.89A115.6 115.6 0 0 1 443.97 702.37Z" fill="#b01f25"/>
<path d="M431.90 587.40L444.68 702.29A115.6 115.6 0 0 1 440.78 702.66Z" fill="#046c38"/>
<path d="M431.90 587.40L441.48 702.60A115.6 115.6 0 0 1 437.58 702.86Z" fill="#f3c38f"/>
<path d="M431.90 587.40L438.28 702.82A115.6 115.6 0 0 1 434.37 702.97Z" fill="#66ba47"/>
<path d="M431.90 587.40L435.08 702.96A115.6 115.6 0 0 1 431.16 703.00Z" fill="#a3cbec"/>
<path d="M431.90 587.40L431.87 703.00A115.6 115.6 0 0 1 427.96 702.93Z" fill="#d3d1e8"/>
<path d="M431.90 587.40L428.66 702.95A115.6 115.6 0 0 1 424.75 702.78Z" fill="#767676"/>
<path d="M431.90 587.40L425.46 702.82A115.6 115.6 0 0 1 421.55 702.54Z" fill="#f5e617"/>
<path d="M431.90 587.40L422.26 702.60A115.6 115.6 0 0 1 418.36 702.20Z" fill="#d2742a"/>
<path d="M431.90 587.40L419.06 702.29A115.6 115.6 0 0 1 415.18 701.78Z" fill="#dcdcdc"/>
<path d="M431.90 587.40L415.88 701.88A115.6 115.6 0 0 1 412.02 701.28Z" fill="#cec52f"/>
<path d="M431.90 587.40L412.71 701.40A115.6 115.6 0 0 1 408.86 700.68Z" fill="#3d5ba9"/>
<path d="M431.90 587.40L409.56 700.82A115.6 115.6 0 0 1 405.73 700.00Z" fill="#e8392a"/>
<path d="M431.90 587.40L406.42 700.16A115.6 115.6 0 0 1 402.61 699.23Z" fill="#36b04a"/>
<path d="M431.90 587.40L403.30 699.41A115.6 115.6 0 0 1 399.52 698.37Z" fill="#8f57a1"/>
<path d="M431.90 587.40L400.20 698.57A115.6 115.6 0 0 1 396.46 697.43Z" fill="#f49020"/>
<path d="M431.90 587.40L397.13 697.65A115.6 115.6 0 0 1 393.85 696.56Z" fill="#000000"/>
<path d="M431.90 587.40L394.52 696.79A115.6 115.6 0 0 1 391.71 695.79Z" fill="#a67a2f"/>
<path d="M431.90 587.40L392.37 696.03A115.6 115.6 0 0 1 389.58 694.97Z" fill="#2c3687"/>
<path d="M431.90 587.40L390.24 695.23A115.6 115.6 0 0 1 387.47 694.12Z" fill="#772367"/>
<path d="M431.90 587.40L388.12 694.39A115.6 115.6 0 0 1 385.37 693.22Z" fill="#b01f25"/>
<path d="M431.90 587.40L386.02 693.50A115.6 115.6 0 0 1 383.29 692.28Z" fill="#046c38"/>
<path d="M431.90 587.40L383.93 692.58A115.6 115.6 0 0 1 381.23 691.31Z" fill="#f3c38f"/>
<path d="M431.90 587.40L381.87 691.61A115.6 115.6 0 0 1 379.19 690.29Z" fill="#66ba47"/>
<path d="M431.90 587.40L379.82 690.61A115.6 115.6 0 0 1 377.18 689.23Z" fill="#a3cbec"/>
<path d="M431.90 587.40L377.80 689.56A115.6 115.6 0 0 1 375.18 688.13Z" fill="#d3d1e8"/>
<path d="M431.90 587.40L375.79 688.47A115.6 115.6 0 0 1 373.20 686.99Z" fill="#767676"/>
<path d="M431.90 587.40L373.81 687.35A115.6 115.6 0 0 1 371.25 685.81Z" fill="#f5e617"/>
<path d="M431.90 587.40L371.85 686.18A115.6 115.6 0 0 1 369.32 684.60Z" fill="#d2742a"/>
<path d="M431.90 587.40L369.92 684.98A115.6 115.6 0 0 1 367.42 683.34Z" fill="#dcdcdc"/>
<path d="M431.90 587.40L368.00 683.74A115.6 115.6 0 0 1 365.54 682.05Z" fill="#cec52f"/>
<path d="M431.90 587.40L366.12 682.46A115.6 115.6 0 0 1 363.68 680.73Z" fill="#3d5ba9"/>
<path d="M431.90 587.40L364.25 681.14A115.6 115.6 0 0 1 361.86 679.36Z" fill="#e8392a"/>
<path d="M431.90 587.40L362.42 679.79A115.6 115.6 0 0 1 360.06 677.96Z" fill="#36b04a"/>
<path d="M431.90 587.40L360.61 678.40A115.6 115.6 0 0 1 358.28 676.53Z" fill="#8f57a1"/>
<path d="M431.90 587.40L358.83 676.98A115.6 115.6 0 0 1 356.54 675.06Z" fill="#f49020"/>
<path d="M431.90 587.40L357.08 675.52A115.6 115.6 0 0 1 354.84 673.57Z" fill="#000000"/>
<path d="M431.90 587.40L355.37 674.04A115.6 115.6 0 0 1 353.19 672.06Z" fill="#a67a2f"/>
<path d="M431.90 587.40L353.71 672.54A115.6 115.6 0 0 1 351.56 670.52Z" fill="#2c3687"/>
<path d="M431.90 587.40L352.07 671.01A115.6 115.6 0 0 1 349.97 668.95Z" fill="#772367"/>
<path d="M431.90 587.40L350.47 669.45A115.6 115.6 0 0 1 348.40 667.35Z" fill="#b01f25"/>
<path d="M431.90 587.40L348.89 667.85A115.6 115.6 0 0 1 346.87 665.71Z" fill="#046c38"/>
<path d="M431.90 587.40L347.35 666.23A115.6 115.6 0 0 1 345.37 664.05Z" fill="#f3c38f"/>
<path d="M431.90 587.40L345.84 664.58A115.6 115.6 0 0 1 343.90 662.36Z" fill="#66ba47"/>
<path d="M431.90 587.40L344.36 662.90A115.6 115.6 0 0 1 342.46 660.64Z" fill="#a3cbec"/>
<path d="M431.90 587.40L342.91 661.19A115.6 115.6 0 0 1 341.06 658.90Z" fill="#d3d1e8"/>
<path d="M431.90 587.40L341.50 659.45A115.6 115.6 0 0 1 339.69 657.12Z" fill="#767676"/>
<path d="M431.90 587.40L340.12 657.68A115.6 115.6 0 0 1 338.36 655.32Z" fill="#f5e617"/>
<path d="M431.90 587.40L338.78 655.89A115.6 115.6 0 0 1 337.06 653.50Z" fill="#d2742a"/>
<path d="M431.90 587.40L337.47 654.08A115.6 115.6 0 0 1 335.80 651.65Z" fill="#dcdcdc"/>
<path d="M431.90 587.40L336.19 652.23A115.6 115.6 0 0 1 334.57 649.78Z" fill="#cec52f"/>
<path d="M431.90 587.40L334.96 650.37A115.6 115.6 0 0 1 333.38 647.88Z" fill="#3d5ba9"/>
<path d="M431.90 587.40L333.75 648.48A115.6 115.6 0 0 1 332.23 645.96Z" fill="#e8392a"/>
<path d="M431.90 587.40L332.59 646.57A115.6 115.6 0 0 1 331.11 644.02Z" fill="#36b04a"/>
<path d="M431.90 587.40L331.46 644.63A115.6 115.6 0 0 1 330.04 642.05Z" fill="#8f57a1"/>
<path d="M431.90 587.40L330.37 642.67A115.6 115.6 0 0 1 329.00 640.07Z" fill="#f49020"/>
<path d="M431.90 587.40L329.32 640.70A115.6 115.6 0 0 1 327.99 638.06Z" fill="#000000"/>
<path d="M431.90 587.40L328.30 638.70A115.6 115.6 0 0 1 327.03 636.03Z" fill="#a67a2f"/>
<path d="M431.90 587.40L327.33 636.67A115.6 115.6 0 0 1 326.10 633.98Z" fill="#2c3687"/>
<path d="M431.90 587.40L326.39 634.63A115.6 115.6 0 0 1 325.21 631.91Z" fill="#772367"/>
<path d="M431.90 587.40L325.49 632.56A115.6 115.6 0 0 1 324.37 629.83Z" fill="#b01f25"/>
<path d="M431.90 587.40L324.63 630.48A115.6 115.6 0 0 1 323.56 627.73Z" fill="#046c38"/>
<path d="M431.90 587.40L323.81 628.39A115.6 115.6 0 0 1 322.80 625.61Z" fill="#f3c38f"/>
<path d="M431.90 587.40L323.03 626.28A115.6 115.6 0 0 1 322.08 623.48Z" fill="#66ba47"/>
<path d="M431.90 587.40L322.30 624.15A115.6 115.6 0 0 1 321.39 621.34Z" fill="#a3cbec"/>
<path d="M431.90 587.40L321.60 622.01A115.6 115.6 0 0 1 320.75 619.18Z" fill="#d3d1e8"/>
<path d="M431.90 587.40L320.95 619.86A115.6 115.6 0 0 1 320.16 617.01Z" fill="#767676"/>
<path d="M431.90 587.40L320.34 617.69A115.6 115.6 0 0 1 319.60 614.83Z" fill="#f5e617"/>
<path d="M431.90 587.40L319.77 615.52A115.6 115.6 0 0 1 319.09 612.64Z" fill="#d2742a"/>
<path d="M431.90 587.40L319.25 613.33A115.6 115.6 0 0 1 318.62 610.44Z" fill="#dcdcdc"/>
<path d="M431.90 587.40L318.76 611.13A115.6 115.6 0 0 1 318.19 608.23Z" fill="#cec52f"/>
<path d="M431.90 587.40L318.32 608.93A115.6 115.6 0 0 1 317.81 606.02Z" fill="#3d5ba9"/>
<path d="M431.90 587.40L317.92 606.71A115.6 115.6 0 0 1 317.47 603.79Z" fill="#e8392a"/>
<path d="M431.90 587.40L317.57 604.49A115.6 115.6 0 0 1 317.17 601.56Z" fill="#36b04a"/>
<path d="M431.90 587.40L317.26 602.26A115.6 115.6 0 0 1 316.92 599.33Z" fill="#8f57a1"/>
<path d="M431.90 587.40L316.99 600.03A115.6 115.6 0 0 1 316.71 597.09Z" fill="#f49020"/>
<path d="M431.90 587.40L316.77 597.79A115.6 115.6 0 0 1 316.57 595.28Z" fill="#000000"/>
<path d="M431.90 587.40L316.62 595.98A115.6 115.6 0 0 1 316.48 593.90Z" fill="#a67a2f"/>
<path d="M431.90 587.40L316.52 594.60A115.6 115.6 0 0 1 316.41 592.52Z" fill="#2c3687"/>
<path d="M431.90 587.40L316.45 593.22A115.6 115.6 0 0 1 316.36 591.14Z" fill="#772367"/>
<path d="M431.90 587.40L316.39 591.84A115.6 115.6 0 0 1 316.32 589.76Z" fill="#b01f25"/>
<path d="M431.90 587.40L316.34 590.46A115.6 115.6 0 0 1 316.30 588.37Z" fill="#046c38"/>
<path d="M431.90 587.40L316.31 589.08A115.6 115.6 0 0 1 316.30 586.99Z" fill="#f3c38f"/>
<path d="M431.90 587.40L316.30 587.70A115.6 115.6 0 0 1 316.31 585.61Z" fill="#66ba47"/>
<path d="M431.90 587.40L316.31 586.32A115.6 115.6 0 0 1 316.34 584.23Z" fill="#a3cbec"/>
<path d="M431.90 587.40L316.33 584.93A115.6 115.6 0 0 1 316.39 582.85Z" fill="#d3d1e8"/>
<path d="M431.90 587.40L316.36 583.55A115.6 115.6 0 0 1 316.45 581.47Z" fill="#767676"/>
<path d="M431.90 587.40L316.42 582.17A115.6 115.6 0 0 1 316.53 580.09Z" fill="#f5e617"/>
<path d="M431.90 587.40L316.49 580.79A115.6 115.6 0 0 1 316.63 578.71Z" fill="#d2742a"/>
<path d="M431.90 587.40L316.58 579.41A115.6 115.6 0 0 1 316.74 577.33Z" fill="#dcdcdc"/>
<path d="M431.90 587.40L316.68 578.03A115.6 115.6 0 0 1 316.87 575.95Z" fill="#cec52f"/>
<path d="M431.90 587.40L316.80 576.66A115.6 115.6 0 0 1 317.01 574.58Z" fill="#3d5ba9"/>
<path d="M431.90 587.40L316.94 575.28A115.6 115.6 0 0 1 317.17 573.21Z" fill="#e8392a"/>
<path d="M431.90 587.40L317.09 573.91A115.6 115.6 0 0 1 317.35 571.84Z" fill="#36b04a"/>
<path d="M431.90 587.40L317.26 572.54A115.6 115.6 0 0 1 317.55 570.47Z" fill="#8f57a1"/>
<path d="M431.90 587.40L317.45 571.17A115.6 115.6 0 0 1 317.76 569.10Z" fill="#f49020"/>
<path d="M431.90 587.40L317.65 569.80A115.6 115.6 0 0 1 317.96 567.86Z" fill="#000000"/>
<path d="M431.90 587.40L317.85 568.56A115.6 115.6 0 0 1 318.16 566.75Z" fill="#a67a2f"/>
<path d="M431.90 587.40L318.04 567.45A115.6 115.6 0 0 1 318.37 565.64Z" fill="#2c3687"/>
<path d="M431.90 587.40L318.24 566.33A115.6 115.6 0 0 1 318.58 564.53Z" fill="#772367"/>
<path d="M431.90 587.40L318.45 565.22A115.6 115.6 0 0 1 318.81 563.42Z" fill="#b01f25"/>
<path d="M431.90 587.40L318.67 564.12A115.6 115.6 0 0 1 319.05 562.32Z" fill="#046c38"/>
<path d="M431.90 587.40L318.90 563.01A115.6 115.6 0 0 1 319.30 561.22Z" fill="#f3c38f"/>
<path d="M431.90 587.40L319.15 561.91A115.6 115.6 0 0 1 319.57 560.12Z" fill="#66ba47"/>
<path d="M431.90 587.40L319.40 560.81A115.6 115.6 0 0 1 319.84 559.02Z" fill="#a3cbec"/>
<path d="M431.90 587.40L319.67 559.71A115.6 115.6 0 0 1 320.12 557.93Z" fill="#d3d1e8"/>
<path d="M431.90 587.40L319.94 558.61A115.6 115.6 0 0 1 320.41 556.84Z" fill="#767676"/>
<path d="M431.90 587.40L320.23 557.52A115.6 115.6 0 0 1 320.72 555.75Z" fill="#f5e617"/>
<path d="M431.90 587.40L320.53 556.43A115.6 115.6 0 0 1 321.03 554.66Z" fill="#d2742a"/>
<path d="M431.90 587.40L320.83 555.34A115.6 115.6 0 0 1 321.36 553.58Z" fill="#dcdcdc"/>
<path d="M431.90 587.40L321.15 554.26A115.6 115.6 0 0 1 321.69 552.50Z" fill="#cec52f"/>
<path d="M431.90 587.40L321.48 553.18A115.6 115.6 0 0 1 322.04 551.43Z" fill="#3d5ba9"/>
<path d="M431.90 587.40L321.82 552.10A115.6 115.6 0 0 1 322.40 550.36Z" fill="#e8392a"/>
<path d="M431.90 587.40L322.17 551.03A115.6 115.6 0 0 1 322.76 549.29Z" fill="#36b04a"/>
<path d="M431.90 587.40L322.53 549.96A115.6 115.6 0 0 1 323.14 548.22Z" fill="#8f57a1"/>
<path d="M431.90 587.40L322.90 548.89A115.6 115.6 0 0 1 323.53 547.16Z" fill="#f49020"/>
<path d="M431.90 587.40L323.29 547.82A115.6 115.6 0 0 1 323.93 546.09Z" fill="#000000"/>
<path d="M431.90 587.40L323.68 546.75A115.6 115.6 0 0 1 324.36 544.99Z" fill="#a67a2f"/>
<path d="M431.90 587.40L324.10 545.65A115.6 115.6 0 0 1 324.79 543.91Z" fill="#2c3687"/>
<path d="M431.90 587.40L324.53 544.56A115.6 115.6 0 0 1 325.24 542.83Z" fill="#772367"/>
<path d="M431.90 587.40L324.97 543.48A115.6 115.6 0 0 1 325.70 541.75Z" fill="#b01f25"/>
<path d="M431.90 587.40L325.42 542.40A115.6 115.6 0 0 1 326.16 540.68Z" fill="#046c38"/>
<path d="M431.90 587.40L325.88 541.32A115.6 115.6 0 0 1 326.64 539.61Z" fill="#f3c38f"/>
<path d="M431.90 587.40L326.35 540.25A115.6 115.6 0 0 1 327.13 538.55Z" fill="#66ba47"/>
<path d="M431.90 587.40L326.83 539.19A115.6 115.6 0 0 1 327.63 537.49Z" fill="#a3cbec"/>
<path d="M431.90 587.40L327.33 538.13A115.6 115.6 0 0 1 328.14 536.43Z" fill="#d3d1e8"/>
<path d="M431.90 587.40L327.83 537.07A115.6 115.6 0 0 1 328.66 535.39Z" fill="#767676"/>
<path d="M431.90 587.40L328.35 536.02A115.6 115.6 0 0 1 329.19 534.34Z" fill="#f5e617"/>
<path d="M431.90 587.40L328.87 534.97A115.6 115.6 0 0 1 329.74 533.31Z" fill="#d2742a"/>
<path d="M431.90 587.40L329.41 533.93A115.6 115.6 0 0 1 330.29 532.28Z" fill="#dcdcdc"/>
<path d="M431.90 587.40L329.95 532.90A115.6 115.6 0 0 1 330.85 531.25Z" fill="#cec52f"/>
<path d="M431.90 587.40L330.51 531.87A115.6 115.6 0 0 1 331.43 530.23Z" fill="#3d5ba9"/>
<path d="M431.90 587.40L331.08 530.84A115.6 115.6 0 0 1 332.01 529.22Z" fill="#e8392a"/>
<path d="M431.90 587.40L331.66 529.83A115.6 115.6 0 0 1 332.60 528.21Z" fill="#36b04a"/>
<path d="M431.90 587.40L332.24 528.82A115.6 115.6 0 0 1 333.21 527.21Z" fill="#8f57a1"/>
<path d="M431.90 587.40L332.84 527.81A115.6 115.6 0 0 1 333.82 526.21Z" fill="#f49020"/>
<path d="M431.90 587.40L333.45 526.81A115.6 115.6 0 0 1 334.42 525.26Z" fill="#000000"/>
<path d="M431.90 587.40L334.04 525.86A115.6 115.6 0 0 1 335.00 524.36Z" fill="#a67a2f"/>
<path d="M431.90 587.40L334.62 524.95A115.6 115.6 0 0 1 335.59 523.46Z" fill="#2c3687"/>
<path d="M431.90 587.40L335.20 524.05A115.6 115.6 0 0 1 336.19 522.57Z" fill="#772367"/>
<path d="M431.90 587.40L335.79 523.16A115.6 115.6 0 0 1 336.79 521.69Z" fill="#b01f25"/>
<path d="M431.90 587.40L336.39 522.27A115.6 115.6 0 0 1 337.41 520.81Z" fill="#046c38"/>
<path d="M431.90 587.40L337.00 521.39A115.6 115.6 0 0 1 338.03 519.94Z" fill="#f3c38f"/>
<path d="M431.90 587.40L337.62 520.51A115.6 115.6 0 0 1 338.66 519.07Z" fill="#66ba47"/>
<path d="M431.90 587.40L338.24 519.64A115.6 115.6 0 0 1 339.29 518.21Z" fill="#a3cbec"/>
<path d="M431.90 587.40L338.87 518.78A115.6 115.6 0 0 1 339.94 517.35Z" fill="#d3d1e8"/>
<path d="M431.90 587.40L339.51 517.92A115.6 115.6 0 0 1 340.59 516.50Z" fill="#767676"/>
<path d="M431.90 587.40L340.16 517.06A115.6 115.6 0 0 1 341.25 515.66Z" fill="#f5e617"/>
<path d="M431.90 587.40L340.82 516.21A115.6 115.6 0 0 1 341.92 514.82Z" fill="#d2742a"/>
<path d="M431.90 587.40L341.48 515.37A115.6 115.6 0 0 1 342.60 513.99Z" fill="#dcdcdc"/>
<path d="M431.90 587.40L342.15 514.54A115.6 115.6 0 0 1 343.28 513.17Z" fill="#cec52f"/>
<path d="M431.90 587.40L342.83 513.71A115.6 115.6 0 0 1 343.98 512.35Z" fill="#3d5ba9"/>
<path d="M431.90 587.40L343.52 512.89A115.6 115.6 0 0 1 344.68 511.54Z" fill="#e8392a"/>
<path d="M431.90 587.40L344.21 512.07A115.6 115.6 0 0 1 345.38 510.73Z" fill="#36b04a"/>
<path d="M431.90 587.40L344.92 511.26A115.6 115.6 0 0 1 346.10 509.93Z" fill="#8f57a1"/>
<path d="M431.90 587.40L345.63 510.46A115.6 115.6 0 0 1 346.82 509.14Z" fill="#f49020"/>
<path d="M431.90 587.40L346.34 509.66A115.6 115.6 0 0 1 347.55 508.35Z" fill="#000000"/>
<path d="M431.90 587.40L347.07 508.87A115.6 115.6 0 0 1 348.29 507.58Z" fill="#a67a2f"/>
<path d="M431.90 587.40L347.80 508.09A115.6 115.6 0 0 1 349.03 506.80Z" fill="#2c3687"/>
<path d="M431.90 587.40L348.54 507.31A115.6 115.6 0 0 1 349.78 506.04Z" fill="#772367"/>
<path d="M431.90 587.40L349.28 506.54A115.6 115.6 0 0 1 350.54 505.28Z" fill="#b01f25"/>
<path d="M431.90 587.40L350.04 505.78A115.6 115.6 0 0 1 351.30 504.53Z" fill="#046c38"/>
<path d="M431.90 587.40L350.80 505.02A115.6 115.6 0 0 1 352.08 503.79Z" fill="#f3c38f"/>
<path d="M431.90 587.40L351.57 504.27A115.6 115.6 0 0 1 352.85 503.05Z" fill="#66ba47"/>
<path d="M431.90 587.40L352.34 503.53A115.6 115.6 0 0 1 353.64 502.32Z" fill="#a3cbec"/>
<path d="M431.90 587.40L353.12 502.80A115.6 115.6 0 0 1 354.43 501.60Z" fill="#d3d1e8"/>
<path d="M431.90 587.40L353.91 502.07A115.6 115.6 0 0 1 355.23 500.88Z" fill="#767676"/>
<path d="M431.90 587.40L354.70 501.35A115.6 115.6 0 0 1 356.04 500.18Z" fill="#f5e617"/>
<path d="M431.90 587.40L355.50 500.64A115.6 115.6 0 0 1 356.85 499.48Z" fill="#d2742a"/>
<path d="M431.90 587.40L356.31 499.94A115.6 115.6 0 0 1 357.67 498.78Z" fill="#dcdcdc"/>
<path d="M431.90 587.40L357.13 499.24A115.6 115.6 0 0 1 358.49 498.10Z" fill="#cec52f"/>
<path d="M431.90 587.40L357.95 498.55A115.6 115.6 0 0 1 359.32 497.42Z" fill="#3d5ba9"/>
<path d="M431.90 587.40L358.77 497.87A115.6 115.6 0 0 1 360.16 496.75Z" fill="#e8392a"/>
<path d="M431.90 587.40L359.61 497.19A115.6 115.6 0 0 1 361.00 496.09Z" fill="#36b04a"/>
<path d="M431.90 587.40L360.45 496.53A115.6 115.6 0 0 1 361.85 495.44Z" fill="#8f57a1"/>
<path d="M431.90 587.40L361.29 495.87A115.6 115.6 0 0 1 362.71 494.79Z" fill="#f49020"/>
<path d="M431.90 587.40L362.14 495.22A115.6 115.6 0 0 1 363.57 494.16Z" fill="#000000"/>
<path d="M431.90 587.40L363.00 494.58A115.6 115.6 0 0 1 364.44 493.53Z" fill="#a67a2f"/>
<path d="M431.90 587.40L363.87 493.94A115.6 115.6 0 0 1 365.31 492.91Z" fill="#2c3687"/>
<path d="M431.90 587.40L364.73 493.31A115.6 115.6 0 0 1 366.19 492.29Z" fill="#772367"/>
<path d="M431.90 587.40L365.61 492.70A115.6 115.6 0 0 1 367.07 491.69Z" fill="#b01f25"/>
<path d="M431.90 587.40L366.49 492.08A115.6 115.6 0 0 1 367.96 491.09Z" fill="#046c38"/>
<path d="M431.90 587.40L367.38 491.48A115.6 115.6 0 0 1 368.86 490.50Z" fill="#f3c38f"/>
<path d="M431.90 587.40L368.27 490.89A115.6 115.6 0 0 1 369.76 489.92Z" fill="#66ba47"/>
<path d="M431.90 587.40L369.17 490.30A115.6 115.6 0 0 1 370.67 489.35Z" fill="#a3cbec"/>
<path d="M431.90 587.40L370.07 489.72A115.6 115.6 0 0 1 371.58 488.79Z" fill="#d3d1e8"/>
<path d="M431.90 587.40L370.98 489.16A115.6 115.6 0 0 1 372.50 488.23Z" fill="#767676"/>
<path d="M431.90 587.40L371.89 488.60A115.6 115.6 0 0 1 373.42 487.68Z" fill="#f5e617"/>
<path d="M431.90 587.40L372.81 488.04A115.6 115.6 0 0 1 374.35 487.15Z" fill="#d2742a"/>
<path d="M431.90 587.40L373.73 487.50A115.6 115.6 0 0 1 375.28 486.62Z" fill="#dcdcdc"/>
<path d="M431.90 587.40L374.66 486.96A115.6 115.6 0 0 1 376.21 486.10Z" fill="#cec52f"/>
<path d="M431.90 587.40L375.60 486.44A115.6 115.6 0 0 1 377.16 485.58Z" fill="#3d5ba9"/>
<path d="M431.90 587.40L376.54 485.92A115.6 115.6 0 0 1 378.10 485.08Z" fill="#e8392a"/>
<path d="M431.90 587.40L377.48 485.41A115.6 115.6 0 0 1 379.05 484.59Z" fill="#36b04a"/>
<path d="M431.90 587.40L378.43 484.91A115.6 115.6 0 0 1 380.01 484.10Z" fill="#8f57a1"/>
<path d="M431.90 587.40L379.38 484.42A115.6 115.6 0 0 1 380.97 483.62Z" fill="#f49020"/>
<path d="M431.90 587.40L380.34 483.94A115.6 115.6 0 0 1 381.93 483.16Z" fill="#000000"/>
<path d="M431.90 587.40L381.30 483.46A115.6 115.6 0 0 1 382.90 482.70Z" fill="#a67a2f"/>
<path d="M431.90 587.40L382.26 483.00A115.6 115.6 0 0 1 383.88 482.25Z" fill="#2c3687"/>
<path d="M431.90 587.40L383.23 482.54A115.6 115.6 0 0 1 384.85 481.81Z" fill="#772367"/>
<path d="M431.90 587.40L384.21 482.10A115.6 115.6 0 0 1 385.83 481.38Z" fill="#b01f25"/>
<path d="M431.90 587.40L385.19 481.66A115.6 115.6 0 0 1 386.82 480.95Z" fill="#046c38"/>
<path d="M431.90 587.40L386.17 481.23A115.6 115.6 0 0 1 387.81 480.54Z" fill="#f3c38f"/>
<path d="M431.90 587.40L387.16 480.81A115.6 115.6 0 0 1 388.80 480.14Z" fill="#66ba47"/>
<path d="M431.90 587.40L388.15 480.40A115.6 115.6 0 0 1 389.80 479.74Z" fill="#a3cbec"/>
<path d="M431.90 587.40L389.14 480.00A115.6 115.6 0 0 1 390.80 479.35Z" fill="#d3d1e8"/>
<path d="M431.90 587.40L390.14 479.61A115.6 115.6 0 0 1 391.80 478.98Z" fill="#767676"/>
<path d="M431.90 587.40L391.14 479.22A115.6 115.6 0 0 1 392.81 478.61Z" fill="#f5e617"/>
<path d="M431.90 587.40L392.14 478.85A115.6 115.6 0 0 1 393.82 478.25Z" fill="#d2742a"/>
<path d="M431.90 587.40L393.15 478.49A115.6 115.6 0 0 1 394.83 477.90Z" fill="#dcdcdc"/>
<path d="M431.90 587.40L394.16 478.13A115.6 115.6 0 0 1 395.85 477.57Z" fill="#cec52f"/>
<path d="M431.90 587.40L395.18 477.79A115.6 115.6 0 0 1 396.87 477.24Z" fill="#3d5ba9"/>
<path d="M431.90 587.40L396.20 477.45A115.6 115.6 0 0 1 397.89 476.92Z" fill="#e8392a"/>
<path d="M431.90 587.40L397.22 477.13A115.6 115.6 0 0 1 398.92 476.61Z" fill="#36b04a"/>
<path d="M431.90 587.40L398.24 476.81A115.6 115.6 0 0 1 399.95 476.30Z" fill="#8f57a1"/>
<path d="M431.90 587.40L399.27 476.50A115.6 115.6 0 0 1 400.98 476.01Z" fill="#f49020"/>
<path d="M431.90 587.40L400.30 476.20A115.6 115.6 0 0 1 401.97 475.74Z" fill="#000000"/>
<path d="M431.90 587.40L401.28 475.93A115.6 115.6 0 0 1 402.91 475.49Z" fill="#a67a2f"/>
<path d="M431.90 587.40L402.23 475.67A115.6 115.6 0 0 1 403.86 475.25Z" fill="#2c3687"/>
<path d="M431.90 587.40L403.18 475.43A115.6 115.6 0 0 1 404.81 475.02Z" fill="#772367"/>
<path d="M431.90 587.40L404.12 475.19A115.6 115.6 0 0 1 405.76 474.79Z" fill="#b01f25"/>
<path d="M431.90 587.40L405.08 474.96A115.6 115.6 0 0 1 406.72 474.58Z" fill="#046c38"/>
<path d="M431.90 587.40L406.03 474.73A115.6 115.6 0 0 1 407.67 474.37Z" fill="#f3c38f"/>
<path d="M431.90 587.40L406.98 474.52A115.6 115.6 0 0 1 408.63 474.17Z" fill="#66ba47"/>
<path d="M431.90 587.40L407.94 474.31A115.6 115.6 0 0 1 409.59 473.97Z" fill="#a3cbec"/>
<path d="M431.90 587.40L408.90 474.11A115.6 115.6 0 0 1 410.55 473.79Z" fill="#d3d1e8"/>
<path d="M431.90 587.40L409.86 473.92A115.6 115.6 0 0 1 411.51 473.61Z" fill="#767676"/>
<path d="M431.90 587.40L410.82 473.74A115.6 115.6 0 0 1 412.48 473.44Z" fill="#f5e617"/>
<path d="M431.90 587.40L411.78 473.56A115.6 115.6 0 0 1 413.44 473.28Z" fill="#d2742a"/>
<path d="M431.90 587.40L412.75 473.40A115.6 115.6 0 0 1 414.41 473.13Z" fill="#dcdcdc"/>
<path d="M431.90 587.40L413.71 473.24A115.6 115.6 0 0 1 415.38 472.99Z" fill="#cec52f"/>
<path d="M431.90 587.40L414.68 473.09A115.6 115.6 0 0 1 416.35 472.85Z" fill="#3d5ba9"/>
<path d="M431.90 587.40L415.65 472.95A115.6 115.6 0 0 1 417.32 472.72Z" fill="#e8392a"/>
<path d="M431.90 587.40L416.62 472.81A115.6 115.6 0 0 1 418.29 472.60Z" fill="#36b04a"/>
<path d="M431.90 587.40L417.59 472.69A115.6 115.6 0 0 1 419.26 472.49Z" fill="#8f57a1"/>
<path d="M431.90 587.40L418.56 472.57A115.6 115.6 0 0 1 420.23 472.39Z" fill="#f49020"/>
<path d="M431.90 587.40L419.53 472.46A115.6 115.6 0 0 1 421.28 472.29Z" fill="#000000"/>
<path d="M431.90 587.40L420.58 472.36A115.6 115.6 0 0 1 422.41 472.19Z" fill="#a67a2f"/>
<path d="M431.90 587.40L421.71 472.25A115.6 115.6 0 0 1 423.54 472.10Z" fill="#2c3687"/>
<path d="M431.90 587.40L422.84 472.16A115.6 115.6 0 0 1 424.67 472.03Z" fill="#772367"/>
<path d="M431.90 587.40L423.97 472.07A115.6 115.6 0 0 1 425.81 471.96Z" fill="#b01f25"/>
<path d="M431.90 587.40L425.10 472.00A115.6 115.6 0 0 1 426.94 471.91Z" fill="#046c38"/>
<path d="M431.90 587.40L426.23 471.94A115.6 115.6 0 0 1 428.07 471.86Z" fill="#f3c38f"/>
<path d="M431.90 587.40L427.37 471.89A115.6 115.6 0 0 1 429.21 471.83Z" fill="#66ba47"/>
<path d="M431.90 587.40L428.50 471.85A115.6 115.6 0 0 1 430.34 471.81Z" fill="#a3cbec"/>
<path d="M431.90 587.40L429.63 471.82A115.6 115.6 0 0 1 431.47 471.80Z" fill="#d3d1e8"/>
<path d="M431.90 587.40L430.77 471.81A115.6 115.6 0 0 1 432.61 471.80Z" fill="#767676"/>
<path d="M431.90 587.40L431.90 471.80A115.6 115.6 0 0 1 460.26 475.33Z" fill="#3d5ba9"/>
<circle cx="431.9" cy="587.4" r="117.4" fill="none" stroke="#000" stroke-width="5.2"/>
<line x1="749.7" y1="106.89999999999999" x2="749.7" y2="557" stroke="#000" stroke-width="4.7"/>
<line x1="736" y1="557.00" x2="749.7" y2="557.00" stroke="#000" stroke-width="4.8"/>
<line x1="736" y1="482.38" x2="749.7" y2="482.38" stroke="#000" stroke-width="4.8"/>
<line x1="736" y1="407.77" x2="749.7" y2="407.77" stroke="#000" stroke-width="4.8"/>
<line x1="736" y1="333.15" x2="749.7" y2="333.15" stroke="#000" stroke-width="4.8"/>
<line x1="736" y1="258.53" x2="749.7" y2="258.53" stroke="#000" stroke-width="4.8"/>
<line x1="736" y1="183.92" x2="749.7" y2="183.92" stroke="#000" stroke-width="4.8"/>
<line x1="736" y1="109.30" x2="749.7" y2="109.30" stroke="#000" stroke-width="4.8"/>
<line x1="736" y1="557" x2="1048.7" y2="557" stroke="#000" stroke-width="4.8"/>
<line x1="787" y1="557" x2="787" y2="571" stroke="#000" stroke-width="4.9"/>
<line x1="1011" y1="557" x2="1011" y2="571" stroke="#000" stroke-width="4.9"/>
<line x1="787" y1="282.41" x2="1011" y2="276.44" stroke="#000" stroke-width="2.5"/>
<line x1="787" y1="306.29" x2="1011" y2="285.40" stroke="#000" stroke-width="2.5"/>
<line x1="787" y1="413.74" x2="1011" y2="255.55" stroke="#000" stroke-width="2.5"/>
<line x1="787" y1="500.29" x2="1011" y2="476.41" stroke="#000" stroke-width="2.5"/>
<line x1="787" y1="509.25" x2="1011" y2="389.86" stroke="#000" stroke-width="2.5"/>
<line x1="787" y1="515.21" x2="1011" y2="321.21" stroke="#000" stroke-width="2.5"/>
<circle cx="787" cy="282.41" r="6.8"/>
<circle cx="1011" cy="276.44" r="6.8"/>
<circle cx="787" cy="306.29" r="6.8"/>
<circle cx="1011" cy="285.40" r="6.8"/>
<circle cx="787" cy="413.74" r="6.8"/>
<circle cx="1011" cy="255.55" r="6.8"/>
<circle cx="787" cy="500.29" r="6.8"/>
<circle cx="1011" cy="476.41" r="6.8"/>
<circle cx="787" cy="509.25" r="6.8"/>
<circle cx="1011" cy="389.86" r="6.8"/>
<circle cx="787" cy="515.21" r="6.8"/>
<circle cx="1011" cy="321.21" r="6.8"/>
<line x1="787.9" y1="152.1" x2="1004.2" y2="152.1" stroke="#000" stroke-width="5.3" stroke-linecap="round"/>
<path d="M902.40 127.20L902.40 118.40M902.40 127.20L910.77 124.48M902.40 127.20L907.57 134.32M902.40 127.20L897.23 134.32M902.40 127.20L894.03 124.48" stroke="#000" stroke-width="3.5" fill="none"/>
<line x1="1198.4" y1="107.5" x2="1198.4" y2="556.8" stroke="#000" stroke-width="4.7"/>
<line x1="1184.2" y1="556.80" x2="1198.4" y2="556.80" stroke="#000" stroke-width="4.8"/>
<line x1="1184.2" y1="445.07" x2="1198.4" y2="445.07" stroke="#000" stroke-width="4.8"/>
<line x1="1184.2" y1="333.35" x2="1198.4" y2="333.35" stroke="#000" stroke-width="4.8"/>
<line x1="1184.2" y1="221.62" x2="1198.4" y2="221.62" stroke="#000" stroke-width="4.8"/>
<line x1="1184.2" y1="109.90" x2="1198.4" y2="109.90" stroke="#000" stroke-width="4.8"/>
<line x1="1184.2" y1="556.8" x2="1497" y2="556.8" stroke="#000" stroke-width="4.8"/>
<line x1="1235.5" y1="556.8" x2="1235.5" y2="570.8" stroke="#000" stroke-width="4.9"/>
<line x1="1458.7" y1="556.8" x2="1458.7" y2="570.8" stroke="#000" stroke-width="4.9"/>
<line x1="1235.5" y1="269.67" x2="1458.7" y2="230.12" stroke="#000" stroke-width="2.5"/>
<line x1="1235.5" y1="321.06" x2="1458.7" y2="304.30" stroke="#000" stroke-width="2.5"/>
<line x1="1235.5" y1="430.55" x2="1458.7" y2="256.26" stroke="#000" stroke-width="2.5"/>
<line x1="1235.5" y1="451.22" x2="1458.7" y2="346.53" stroke="#000" stroke-width="2.5"/>
<line x1="1235.5" y1="467.42" x2="1458.7" y2="425.63" stroke="#000" stroke-width="2.5"/>
<line x1="1235.5" y1="521.72" x2="1458.7" y2="385.64" stroke="#000" stroke-width="2.5"/>
<circle cx="1235.5" cy="269.67" r="6.8"/>
<circle cx="1458.7" cy="230.12" r="6.8"/>
<circle cx="1235.5" cy="321.06" r="6.8"/>
<circle cx="1458.7" cy="304.30" r="6.8"/>
<circle cx="1235.5" cy="430.55" r="6.8"/>
<circle cx="1458.7" cy="256.26" r="6.8"/>
<circle cx="1235.5" cy="451.22" r="6.8"/>
<circle cx="1458.7" cy="346.53" r="6.8"/>
<circle cx="1235.5" cy="467.42" r="6.8"/>
<circle cx="1458.7" cy="425.63" r="6.8"/>
<circle cx="1235.5" cy="521.72" r="6.8"/>
<circle cx="1458.7" cy="385.64" r="6.8"/>
<line x1="1236.2" y1="147.9" x2="1452.5" y2="147.9" stroke="#000" stroke-width="5.3" stroke-linecap="round"/>
<path d="M1344.40 125.30L1344.40 116.50M1344.40 125.30L1352.77 122.58M1344.40 125.30L1349.57 132.42M1344.40 125.30L1339.23 132.42M1344.40 125.30L1336.03 122.58" stroke="#000" stroke-width="3.5" fill="none"/>
<g style="will-change:transform" stroke="#000" stroke-width="0.3">
<text x="0.5" y="28" font-family="Liberation Sans, sans-serif" font-weight="bold" font-size="44">a</text>
<text x="627" y="30.7" font-family="Liberation Sans, sans-serif" font-weight="bold" font-size="44">b</text>
<text x="279.6" y="42" text-anchor="middle" font-family="Liberation Sans, sans-serif" font-size="29.8">TCR<tspan font-family="Liberation Serif, serif">&#945;</tspan> clones</text>
<text x="136.2" y="342" text-anchor="middle" font-family="Liberation Sans, sans-serif" font-size="29.3">Pre-infection</text>
<text x="441.7" y="342" text-anchor="middle" font-family="Liberation Sans, sans-serif" font-size="29.3">Early chronic infection</text>
<text x="275.6" y="451.8" text-anchor="middle" font-family="Liberation Sans, sans-serif" font-size="29.8">TCR<tspan font-family="Liberation Serif, serif">&#946;</tspan> clones</text>
<text x="123" y="750.6" text-anchor="middle" font-family="Liberation Sans, sans-serif" font-size="29.3">Pre-infection</text>
<text x="442.5" y="750.6" text-anchor="middle" font-family="Liberation Sans, sans-serif" font-size="29.3">Early chronic infection</text>
<text x="725.0" y="566.80" text-anchor="end" font-family="Liberation Sans, sans-serif" font-size="29.3">0</text>
<text x="725.0" y="492.18" text-anchor="end" font-family="Liberation Sans, sans-serif" font-size="29.3">25</text>
<text x="725.0" y="417.57" text-anchor="end" font-family="Liberation Sans, sans-serif" font-size="29.3">50</text>
<text x="725.0" y="342.95" text-anchor="end" font-family="Liberation Sans, sans-serif" font-size="29.3">75</text>
<text x="725.0" y="268.33" text-anchor="end" font-family="Liberation Sans, sans-serif" font-size="29.3">100</text>
<text x="725.0" y="193.72" text-anchor="end" font-family="Liberation Sans, sans-serif" font-size="29.3">125</text>
<text x="725.0" y="119.10" text-anchor="end" font-family="Liberation Sans, sans-serif" font-size="29.3">150</text>
<text transform="translate(651.7,334.3) rotate(-90)" text-anchor="middle" font-family="Liberation Sans, sans-serif" font-size="29.6">Number of unique <tspan font-family="Liberation Serif, serif">&#945;</tspan> clones</text>
<text transform="translate(799,582) rotate(-45)" text-anchor="end" font-family="Liberation Sans, sans-serif" font-size="29.3" x="-6.0" y="6.86">Pre-infection</text>
<text transform="translate(1023,582) rotate(-45)" text-anchor="middle" font-family="Liberation Sans, sans-serif" font-size="29.3"><tspan x="-90.9" y="7.6">Early chronic</tspan><tspan x="-94.95" y="42.3">infection</tspan></text>
<text x="1173.2" y="566.60" text-anchor="end" font-family="Liberation Sans, sans-serif" font-size="29.3">0</text>
<text x="1173.2" y="454.88" text-anchor="end" font-family="Liberation Sans, sans-serif" font-size="29.3">100</text>
<text x="1173.2" y="343.15" text-anchor="end" font-family="Liberation Sans, sans-serif" font-size="29.3">200</text>
<text x="1173.2" y="231.43" text-anchor="end" font-family="Liberation Sans, sans-serif" font-size="29.3">300</text>
<text x="1173.2" y="119.70" text-anchor="end" font-family="Liberation Sans, sans-serif" font-size="29.3">400</text>
<text transform="translate(1099,333.2) rotate(-90)" text-anchor="middle" font-family="Liberation Sans, sans-serif" font-size="28.6">Number of unique <tspan font-family="Liberation Serif, serif">&#946;</tspan> clones</text>
<text transform="translate(1247.5,581.8) rotate(-45)" text-anchor="end" font-family="Liberation Sans, sans-serif" font-size="29.3" x="-6.0" y="6.86">Pre-infection</text>
<text transform="translate(1470.7,581.8) rotate(-45)" text-anchor="middle" font-family="Liberation Sans, sans-serif" font-size="29.3"><tspan x="-90.9" y="7.6">Early chronic</tspan><tspan x="-94.95" y="42.3">infection</tspan></text>
</g>
</svg>
</body></html>
